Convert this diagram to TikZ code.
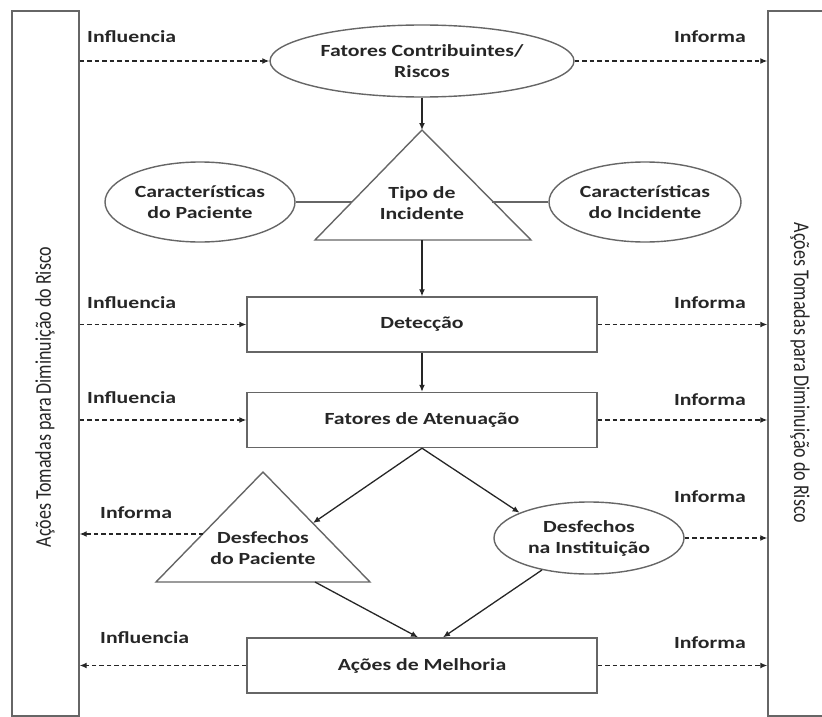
\documentclass[tikz,border=0pt]{standalone}
\usepackage{fontspec}
\setmainfont{Carlito}
\newfontfamily\lblfont[FakeStretch=1.28]{Carlito}
\usetikzlibrary{shapes.geometric,arrows.meta}

\tikzset{
    lbl/.style={font=\lblfont\bfseries\fontsize{17}{21}\selectfont, text=black!85, align=center},
    frame/.style={draw=black!60, line width=1.4pt, line join=miter},
    flow/.style={draw=black!85, line width=1.3pt, -{Latex[length=7pt,width=6pt]}},
    info/.style={draw=black!85, line width=1.3pt, dash pattern=on 4.5pt off 3pt, -{Latex[length=7pt,width=6pt]}}
}

\begin{document}
\begin{tikzpicture}[x=1pt, y=-1pt]
    \useasboundingbox (0,0) rectangle (822,717);

    % side bars
    \begin{scope}[
            every node/.style={frame, inner sep=0pt, minimum width=67pt, minimum height=705pt}
        ]
        \node (lbar) at (45.5,363.5) {};
        \node (rbar) at (801.5,363.5) {};
    \end{scope}
    \node[rotate=90, font=\fontsize{18}{20}\selectfont, text=black!85] (ltxt) at (45,397)
        {\scalebox{1}[1.25]{Ações Tomadas para Diminuição do Risco}};
    \node[rotate=-90, font=\fontsize{18}{20}\selectfont, text=black!85] (rtxt) at (800,373)
        {\scalebox{1}[1.25]{Ações Tomadas para Diminuição do Risco}};

    % ovals
    \begin{scope}[
            every node/.style={lbl, frame, ellipse, inner sep=0pt}
        ]
        \node[minimum width=304pt, minimum height=72pt] (fatores) at (422,61) {Fatores Contribuintes/\\Riscos};
        \node[minimum width=190pt, minimum height=80pt] (carpac) at (200,202) {Características\\do Paciente};
        \node[minimum width=192pt, minimum height=80pt] (carinc) at (645,202) {Características\\do Incidente};
        \node[minimum width=190pt, minimum height=72pt] (desinst) at (589,538) {Desfechos\\na Instituição};
    \end{scope}

    % boxes
    \begin{scope}[
            every node/.style={lbl, frame, inner sep=0pt, minimum width=350pt, minimum height=55pt}
        ]
        \node (detec) at (422,324.5) {Detecção};
        \node (atenua) at (422,420) {Fatores de Atenuação};
        \node (melh) at (422,665.5) {Ações de Melhoria};
    \end{scope}

    % triangles
    \coordinate (tA) at (422,130);
    \coordinate (tL) at (315,240);
    \coordinate (tR) at (531,240);
    \coordinate (tB) at (422,240);
    \coordinate (tW) at (352,202);
    \coordinate (tE) at (492,202);
    \draw[frame] (tA) -- (tR) -- (tL) -- cycle;
    \node[lbl] (tipo) at (422,203) {Tipo de\\Incidente};

    \coordinate (dA) at (263,472);
    \coordinate (dL) at (156,582);
    \coordinate (dR) at (370,582);
    \coordinate (dS) at (315,582);
    \coordinate (dW) at (203,534);
    \coordinate (dE) at (313,523);
    \draw[frame] (dA) -- (dR) -- (dL) -- cycle;
    \node[lbl] (despac) at (263,548) {Desfechos\\do Paciente};

    % plain links
    \draw[draw=black!60, line width=1.3pt] (carpac) edge (tW);
    \draw[draw=black!60, line width=1.3pt] (tE) edge (carinc);

    \begin{scope}[
            every edge/.style={flow}
        ]
        \draw (fatores) edge (tA);
        \draw (tB) edge (detec);
        \draw (detec) edge (atenua);
        \draw (atenua.south) edge (dE);
        \draw (atenua.south) edge (desinst.160);
        \draw (dS) edge ([xshift=-4pt]melh.north);
        \draw (desinst) edge ([xshift=21pt]melh.north);
    \end{scope}

    \begin{scope}[
            every edge/.style={info}
        ]
        \draw (lbar.east |- fatores.west) edge (fatores.west);
        \draw (fatores.east) edge (rbar.west |- fatores.east);
        \draw (lbar.east |- detec.west) edge (detec.west);
        \draw (detec.east) edge (rbar.west |- detec.east);
        \draw (lbar.east |- atenua.west) edge (atenua.west);
        \draw (atenua.east) edge (rbar.west |- atenua.east);
        \draw (dW) edge (lbar.east |- dW);
        \draw (desinst.east) edge (rbar.west |- desinst.east);
        \draw (melh.west) edge (lbar.east |- melh.west);
        \draw (melh.east) edge (rbar.west |- melh.east);
    \end{scope}

    % labels
    \begin{scope}[
            every node/.style={lbl, inner sep=0pt}
        ]
        \node[anchor=west] (inf1) at (87,37) {Influencia};
        \node[anchor=east] (inf2) at (746,37) {Informa};
        \node[anchor=west] (inf3) at (87,303) {Influencia};
        \node[anchor=east] (inf4) at (746,303) {Informa};
        \node[anchor=west] (inf5) at (87,398) {Influencia};
        \node[anchor=east] (inf6) at (746,400) {Informa};
        \node[anchor=west] (inf7) at (100,513) {Informa};
        \node[anchor=east] (inf8) at (746,497) {Informa};
        \node[anchor=west] (inf9) at (100,638) {Influencia};
        \node[anchor=east] (inf10) at (746,643) {Informa};
    \end{scope}
\end{tikzpicture}
\end{document}
